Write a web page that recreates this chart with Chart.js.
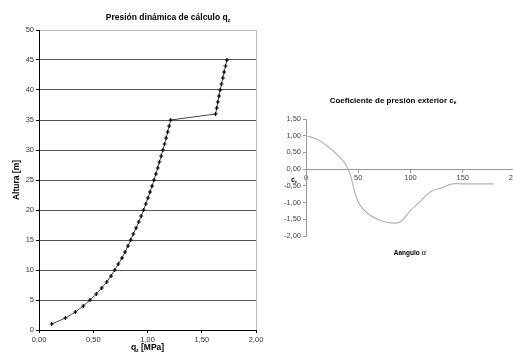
<!DOCTYPE html>
<html>
<head>
<meta charset="utf-8">
<script src="https://cdn.jsdelivr.net/npm/chart.js@4.4.0/dist/chart.umd.min.js"></script>
<style>
  html, body { margin: 0; padding: 0; background: #fff; overflow: hidden; width: 513px; height: 356px; position: relative; }
  #left { position: absolute; left: 0; top: 0; }
  #right { position: absolute; left: 280px; top: 90px; }
</style>
</head>
<body>
<canvas id="left" width="270" height="356"></canvas>
<canvas id="right" width="250" height="175"></canvas>
<script>
// Presión dinámica: altura [m] vs q_z [MPa]
const heights = [1, 2, 3, 4, 5, 6, 7, 8, 9, 10, 11, 12, 13, 14, 15, 16, 17, 18, 19, 20,
  21, 22, 23, 24, 25, 26, 27, 28, 29, 30, 31, 32, 33, 34, 35, 36, 37, 38, 39, 40,
  41, 42, 43, 44, 45];
const qz = [0.117, 0.243, 0.335, 0.408, 0.470, 0.528, 0.578, 0.624, 0.664, 0.698,
  0.731, 0.765, 0.793, 0.820, 0.845, 0.869, 0.895, 0.919, 0.942, 0.964,
  0.984, 1.004, 1.023, 1.042, 1.060, 1.077, 1.094, 1.110, 1.126, 1.142,
  1.157, 1.172, 1.186, 1.200, 1.213, 1.628, 1.638, 1.648, 1.659, 1.670,
  1.682, 1.694, 1.706, 1.719, 1.732];

// Coeficiente de presión exterior ce vs ángulo
const angles = [0, 10, 20, 30, 40, 50, 60, 70, 80, 90, 100, 110, 120, 130, 140, 150, 160, 170, 180];
const ce = [1.00, 0.90, 0.70, 0.43, 0.03, -0.98, -1.35, -1.52, -1.60, -1.58,
  -1.24, -0.94, -0.66, -0.56, -0.44, -0.44, -0.44, -0.44, -0.44];

const FONT = '"Liberation Sans", Arial, sans-serif';
Chart.defaults.font.family = FONT;
Chart.defaults.font.size = 7.5;
Chart.defaults.color = '#333';

const comma = v => Number(v).toFixed(2).replace('.', ',');

// draw a label made of pieces, some of them as subscripts, centred at (cx, cy)
function drawParts(ctx, parts, cx, cy, size) {
  ctx.save();
  ctx.textBaseline = 'middle';
  ctx.textAlign = 'left';
  ctx.fillStyle = '#000';
  const fontOf = p => (p.font || ('bold ' + (p.sub ? size * 0.6 : size) + 'px ' + FONT));
  let total = 0;
  parts.forEach(p => { ctx.font = fontOf(p); total += ctx.measureText(p.t).width; });
  let x = cx - total / 2;
  parts.forEach(p => {
    ctx.font = fontOf(p);
    ctx.fillText(p.t, x, p.sub ? cy + size * 0.25 : cy);
    x += ctx.measureText(p.t).width;
  });
  ctx.restore();
}

const leftText = {
  id: 'leftText',
  afterDraw(chart) {
    const ctx = chart.ctx;
    const a = chart.chartArea;
    drawParts(ctx, [{ t: 'Presión dinámica de cálculo q' }, { t: 'z', sub: true }], 168, 18, 8.5);
    drawParts(ctx, [{ t: 'q' }, { t: 'z', sub: true }, { t: ' [MPa]' }], (a.left + a.right) / 2, 348, 8.5);
    ctx.save();
    ctx.translate(17, 180);
    ctx.rotate(-Math.PI / 2);
    drawParts(ctx, [{ t: 'Altura [m]' }], 0, 0, 8.5);
    ctx.restore();
  }
};

const rightText = {
  id: 'rightText',
  afterDraw(chart) {
    const ctx = chart.ctx;
    drawParts(ctx, [{ t: 'Coeficiente de presión exterior c' }, { t: 'e', sub: true }], 113, 11, 8);
    drawParts(ctx, [{ t: 'Aangulo ' }, { t: 'α', font: 'italic 9px "Liberation Serif", serif' }], 130, 163, 6.5);
    drawParts(ctx, [{ t: 'c' }, { t: 'e', sub: true }], 14, 90, 7);
  }
};

new Chart(document.getElementById('left'), {
  type: 'scatter',
  data: {
    datasets: [{
      data: heights.map((h, i) => ({ x: qz[i], y: h })),
      showLine: true,
      borderColor: '#444',
      borderWidth: 1,
      pointStyle: 'cross',
      pointRadius: 2,
      pointBorderColor: '#000',
      pointBorderWidth: 1.2
    }]
  },
  options: {
    responsive: false,
    animation: false,
    layout: { padding: { top: 30, right: 14, bottom: 0, left: 0 } },
    plugins: { legend: { display: false }, tooltip: { enabled: false } },
    scales: {
      x: {
        min: 0, max: 2,
        ticks: { stepSize: 0.5, callback: comma, padding: 2, maxRotation: 0 },
        grid: { color: c => c.tick && c.tick.value === 2 ? '#bbb' : 'transparent', tickColor: '#000', tickLength: 3 },
        border: { color: '#000' },
        afterFit: s => { s.height = 26; }
      },
      y: {
        min: 0, max: 50,
        ticks: { stepSize: 5, padding: 2 },
        grid: {
          color: c => c.tick && c.tick.value === 50 ? '#bbb' : (c.tick && c.tick.value === 0 ? 'transparent' : '#555'),
          tickColor: '#000', tickLength: 3
        },
        border: { color: '#000' },
        afterFit: s => { s.width = 39; }
      }
    }
  },
  plugins: [leftText]
});

new Chart(document.getElementById('right'), {
  type: 'scatter',
  data: {
    datasets: [{
      data: angles.map((a, i) => ({ x: a, y: ce[i] })),
      showLine: true,
      borderColor: '#b4b4b4',
      borderWidth: 1.2,
      pointRadius: 0,
      tension: 0.4
    }]
  },
  options: {
    responsive: false,
    animation: false,
    layout: { padding: { top: 29, right: 15, bottom: 29, left: 0 } },
    plugins: { legend: { display: false }, tooltip: { enabled: false } },
    scales: {
      x: {
        min: 0, max: 200,
        position: { y: 0 },
        ticks: { stepSize: 50, padding: 1, color: '#444', maxRotation: 0, autoSkip: false },
        grid: { drawOnChartArea: false, color: '#999', tickLength: 3 },
        border: { color: '#999' }
      },
      y: {
        min: -2, max: 1.5,
        ticks: { stepSize: 0.5, callback: comma, padding: 2, color: '#444' },
        grid: { drawOnChartArea: false, color: '#999', tickLength: 3 },
        border: { color: '#999' },
        afterFit: s => { s.width = 26; }
      }
    }
  },
  plugins: [rightText]
});
</script>
</body>
</html>
